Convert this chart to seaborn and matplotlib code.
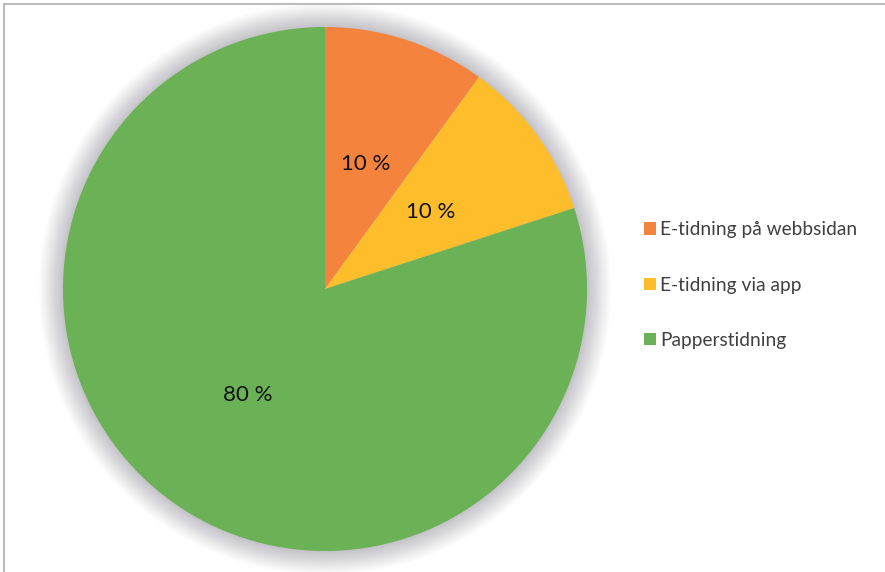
import matplotlib
matplotlib.use("Agg")
import matplotlib.pyplot as plt
from matplotlib.patches import Circle, Rectangle, Patch
import seaborn as sns

# Data
categories = ["E-tidning på webbsidan", "E-tidning via app", "Papperstidning"]
shares = [10, 10, 80]
colors = ["#F4843D", "#FEBE2C", "#6BB155"]

sns.set_theme(style="white")
plt.rcParams["font.family"] = ["Lato", "DejaVu Sans"]

W, H, DPI = 885, 572, 100
fig = plt.figure(figsize=(W / DPI, H / DPI), dpi=DPI)
fig.patch.set_facecolor("white")

# Pie axes: center at (325, 289) px from top-left, radius 262 px
R = 262.0
cx, cy = 325.0, H - 289.0
lim = 1.1
side = 2 * lim * R
ax = fig.add_axes([(cx - side / 2) / W, (cy - side / 2) / H, side / W, side / H])
ax.set_xlim(-lim, lim)
ax.set_ylim(-lim, lim)
ax.set_aspect("equal")
ax.axis("off")

# Soft shadow around the pie
n_layers = 24
max_extra = 24 / R
for i in range(n_layers):
    r = 1 + max_extra * (1 - i / n_layers) ** 1.3
    ax.add_patch(Circle((0, 0.0), r, facecolor="#5a5a66", edgecolor="none",
                        alpha=0.016, zorder=0))

wedges, texts, autotexts = ax.pie(
    shares,
    colors=colors,
    startangle=90,
    counterclock=False,
    radius=1.0,
    autopct=lambda p: f"{p:.0f} %",
    pctdistance=0.5,
    wedgeprops=dict(linewidth=0, edgecolor="none"),
    textprops=dict(fontsize=16, color="#111111"),
)
for w in wedges:
    w.set_zorder(2)
for t in autotexts:
    t.set_zorder(3)
ax.set_xlim(-lim, lim)
ax.set_ylim(-lim, lim)

# Legend
handles = [Patch(facecolor=c, edgecolor="none") for c in colors]
leg = fig.legend(
    handles, categories,
    loc="center left",
    bbox_to_anchor=(644 / W, (H - 285) / H),
    frameon=False,
    fontsize=13.8,
    handlelength=0.62,
    handleheight=0.62,
    handletextpad=0.22,
    labelspacing=2.0,
    borderaxespad=0,
    borderpad=0,
)
for t in leg.get_texts():
    t.set_color("#404040")

# Chart frame
fig.patches.append(Rectangle((3.5 / W, -0.05), 1.2, 1 - 3.5 / H + 0.05,
                             transform=fig.transFigure, fill=False,
                             edgecolor="#bdbdbd", linewidth=1.5))

fig.savefig("out.png", dpi=DPI, facecolor="white")
